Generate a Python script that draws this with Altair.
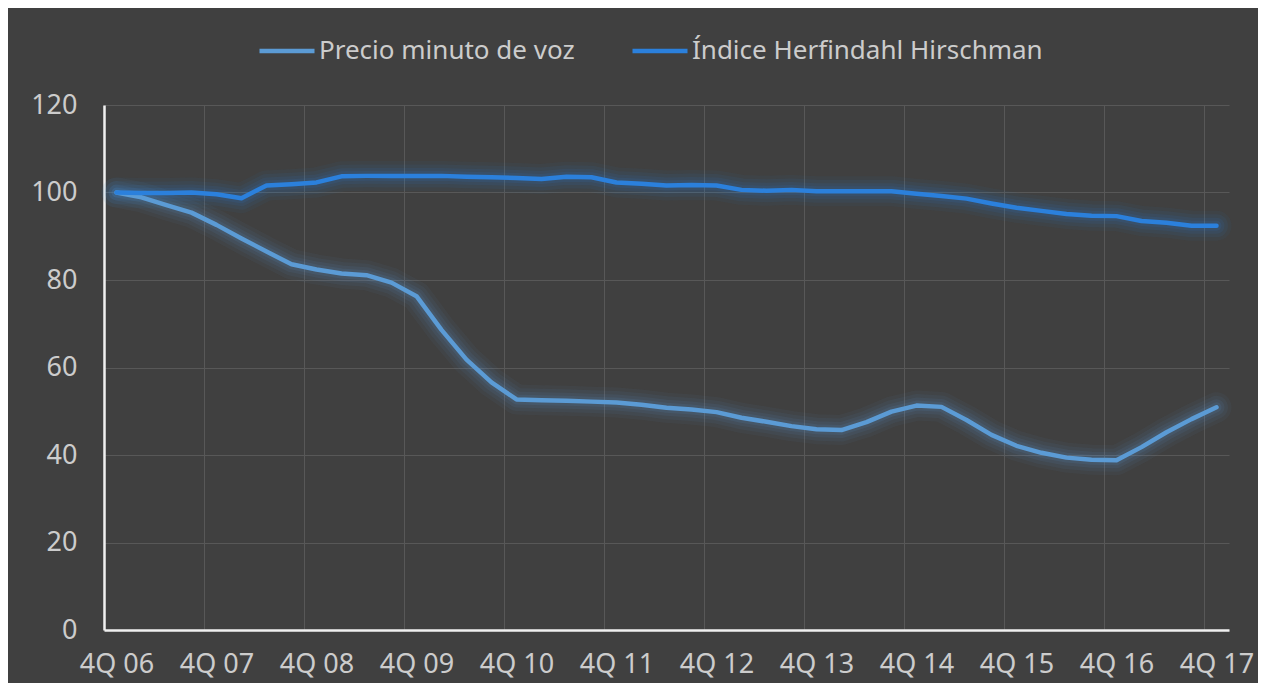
import altair as alt
import pandas as pd

quarters = [
    "4Q 06", "1Q 07", "2Q 07", "3Q 07", "4Q 07", "1Q 08", "2Q 08", "3Q 08",
    "4Q 08", "1Q 09", "2Q 09", "3Q 09", "4Q 09", "1Q 10", "2Q 10", "3Q 10",
    "4Q 10", "1Q 11", "2Q 11", "3Q 11", "4Q 11", "1Q 12", "2Q 12", "3Q 12",
    "4Q 12", "1Q 13", "2Q 13", "3Q 13", "4Q 13", "1Q 14", "2Q 14", "3Q 14",
    "4Q 14", "1Q 15", "2Q 15", "3Q 15", "4Q 15", "1Q 16", "2Q 16", "3Q 16",
    "4Q 16", "1Q 17", "2Q 17", "3Q 17", "4Q 17",
]

precio = [
    100.0, 98.9, 97.1, 95.4, 92.6, 89.5, 86.5, 83.6,
    82.4, 81.5, 81.1, 79.4, 76.3, 68.6, 61.8, 56.6,
    52.7, 52.5, 52.4, 52.2, 52.0, 51.5, 50.8, 50.4,
    49.8, 48.5, 47.6, 46.6, 45.9, 45.7, 47.5, 49.9,
    51.3, 51.0, 48.0, 44.6, 42.1, 40.5, 39.4, 38.9,
    38.8, 41.8, 45.2, 48.2, 50.9,
]

hhi = [
    100.0, 99.9, 99.9, 100.0, 99.6, 98.7, 101.6, 101.9,
    102.3, 103.7, 103.8, 103.8, 103.8, 103.8, 103.6, 103.5,
    103.3, 103.1, 103.6, 103.5, 102.3, 102.0, 101.6, 101.7,
    101.6, 100.6, 100.4, 100.6, 100.3, 100.3, 100.3, 100.3,
    99.7, 99.2, 98.6, 97.5, 96.5, 95.8, 95.1, 94.7,
    94.6, 93.5, 93.1, 92.4, 92.4,
]

series_names = ["Precio minuto de voz", "Índice Herfindahl Hirschman"]
series_colors = ["#5b9bd5", "#2b80dc"]
x_label_values = quarters[::4]
y_ticks = [0, 20, 40, 60, 80, 100, 120]

df = pd.DataFrame({
    "trimestre": quarters * 2,
    "valor": precio + hhi,
    "serie": [series_names[0]] * len(quarters) + [series_names[1]] * len(hhi),
})

FONT = "Century Gothic, Noto Sans"
TXT = "#cccccc"
STEP = 25  # px per quarter (1125 / 45)

x_enc = alt.X(
    "trimestre:N",
    sort=quarters,
    bandPosition=0.5,
    scale=alt.Scale(type="band", paddingInner=0, paddingOuter=0),
    axis=alt.Axis(
        values=x_label_values,
        labelAngle=0,
        title=None,
        ticks=False,
        tickOffset=-STEP / 2,
        labelOffset=STEP / 2,
        labelPadding=21,
        labelFontSize=27,
        labelColor=TXT,
        labelFont=FONT,
        grid=True,
        gridColor="#585858",
        gridWidth=1,
        domainColor="#f0f0f0",
        domainWidth=2.5,
    ),
)
y_enc = alt.Y(
    "valor:Q",
    scale=alt.Scale(domain=[0, 120], nice=False),
    axis=alt.Axis(
        values=y_ticks,
        title=None,
        ticks=False,
        labelPadding=27,
        labelFontSize=27,
        labelColor=TXT,
        labelFont=FONT,
        grid=True,
        gridColor="#585858",
        gridWidth=1,
        domainColor="#f0f0f0",
        domainWidth=2.5,
    ),
)

legend = alt.Legend(
    title=None,
    orient="none",
    direction="horizontal",
    legendX=153,
    legendY=-84,
    symbolType="stroke",
    symbolSize=3025,
    symbolStrokeWidth=4.5,
    symbolOpacity=1,
    labelFontSize=26,
    labelFont=FONT,
    labelColor=TXT,
    labelOffset=2,
    labelLimit=600,
    columnPadding=48,
    padding=0,
)
color_enc = alt.Color("serie:N", scale=alt.Scale(domain=series_names, range=series_colors),
                      sort=series_names, legend=legend)

base = alt.Chart(df).encode(x=x_enc, y=y_enc, color=color_enc)

glows = [
    base.mark_line(strokeWidth=w, opacity=o, strokeJoin="round", strokeCap="round")
    for w, o in [(30, 0.05), (23, 0.065), (16, 0.085), (10, 0.11)]
]
main = base.mark_line(strokeWidth=4.5, strokeJoin="round", strokeCap="round")

chart = (
    alt.layer(*glows, main)
    .properties(
        width=1125,
        height=525,
        background="#404040",
        autosize=alt.AutoSizeParams(type="none"),
        padding={"left": 96, "top": 97, "right": 29, "bottom": 53},
    )
    .configure_view(stroke=None)
)

chart.save("out.html", embed_options={"renderer": "svg", "actions": False})
